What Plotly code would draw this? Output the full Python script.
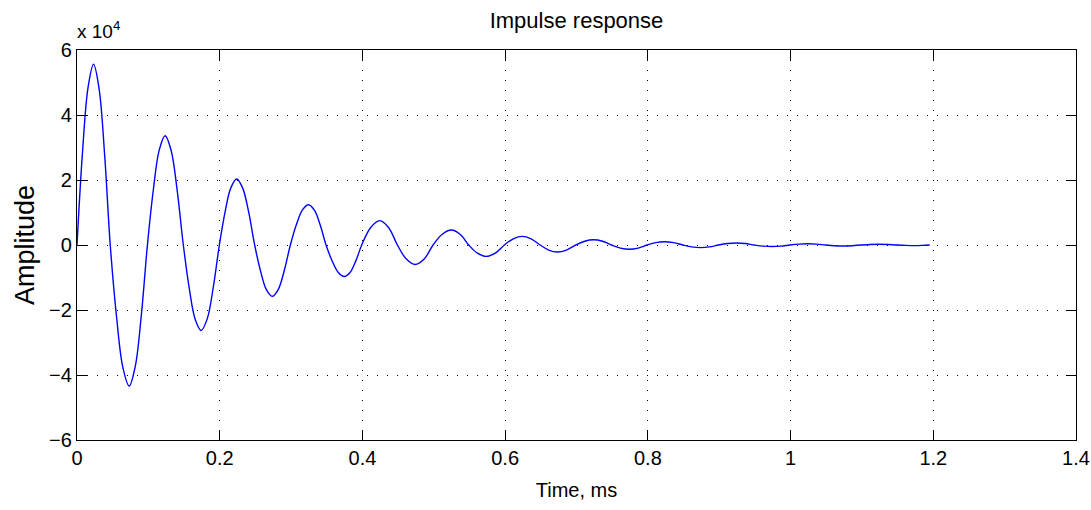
import plotly.graph_objects as go

# Points: time (ms) and amplitude
time_ms = [
    0.0, 0.0077, 0.0155, 0.0232, 0.0310, 0.0388,
    0.0466, 0.0554, 0.0643, 0.0731, 0.0816, 0.0902,
    0.0987, 0.1070, 0.1152, 0.1235, 0.1320, 0.1405,
    0.149, 0.1573, 0.1657, 0.174, 0.1825, 0.1910,
    0.1995, 0.2076, 0.2157, 0.2238, 0.2322, 0.2406,
    0.249, 0.2572, 0.2654, 0.2736, 0.2821, 0.2905,
    0.299, 0.3075, 0.3160, 0.3245, 0.3327, 0.3408,
    0.349, 0.3576, 0.3662, 0.3748, 0.3829, 0.3909,
    0.399, 0.4116, 0.4242, 0.4366,
    0.449, 0.4615, 0.474, 0.4865,
    0.499, 0.5118, 0.5245, 0.5368,
    0.549, 0.5612, 0.5734, 0.5862,
    0.599, 0.6114, 0.6238, 0.6364,
    0.649, 0.661, 0.673, 0.686,
    0.699, 0.7115, 0.724, 0.7365,
    0.749, 0.7615, 0.774, 0.7865,
    0.799, 0.811, 0.823, 0.836,
    0.849, 0.8615, 0.874, 0.8865,
    0.899, 0.9115, 0.924, 0.9365,
    0.949, 0.9615, 0.974, 0.9865,
    0.999, 1.0115, 1.024, 1.0365,
    1.049, 1.0615, 1.074, 1.0865,
    1.099, 1.1115, 1.124, 1.1365,
    1.149, 1.1615, 1.174, 1.1845,
    1.195,
]
amplitude = [
    0, 28500, 48500, 55600, 48000, 27500,
    0, -22000, -37700, -43400, -37400, -21500,
    0, 17000, 29200, 33600, 29000, 16600,
    0, -13300, -22900, -26300, -22700, -13000,
    0, 10300, 17650, 20300, 17500, 10100,
    0, -8000, -13750, -15800, -13650, -7850,
    0, 6300, 10800, 12400, 10700, 6150,
    0, -4900, -8450, -9700, -8380, -4800,
    0, 5400, 7500, 5400,
    0, -4320, -6000, -4320,
    0, 3310, 4600, 3310,
    0, -2520, -3500, -2520,
    0, 1910, 2650, 1910,
    0, -1550, -2150, -1550,
    0, 1150, 1600, 1150,
    0, -940, -1300, -940,
    0, 720, 1000, 720,
    0, -580, -800, -580,
    0, 450, 620, 450,
    0, -350, -480, -350,
    0, 270, 370, 270,
    0, -210, -290, -210,
    0, 165, 230, 165,
    0, -130, -180, -130,
    0,
]

x_ticks = [0, 0.2, 0.4, 0.6, 0.8, 1.0, 1.2, 1.4]
x_tick_labels = ["0", "0.2", "0.4", "0.6", "0.8", "1", "1.2", "1.4"]
y_ticks = [-60000, -40000, -20000, 0, 20000, 40000, 60000]
y_tick_labels = ["\u22126", "\u22124", "\u22122", "0", "2", "4", "6"]

FONT = "Liberation Sans, Arial, sans-serif"

fig = go.Figure()
fig.add_trace(go.Scatter(
    x=time_ms, y=amplitude, mode="lines",
    line=dict(color="#0000ff", width=1.4, shape="spline", smoothing=1.0),
    showlegend=False, hoverinfo="skip"))

axis_common = dict(
    showline=True, linecolor="black", linewidth=1.2, mirror="ticks",
    ticks="inside", ticklen=10, tickcolor="black", tickwidth=1,
    showgrid=True, gridcolor="black", gridwidth=1, griddash="1px,9px",
    zeroline=False, tickfont=dict(family=FONT, size=20, color="black"),
    ticklabeloverflow="allow", automargin=False,
)

fig.update_xaxes(range=[0, 1.4], tickvals=x_ticks, ticktext=x_tick_labels,
                 title=dict(text="Time, ms", font=dict(family=FONT, size=20, color="black"), standoff=14),
                 **axis_common)
fig.update_yaxes(range=[-60000, 60000], tickvals=y_ticks, ticktext=y_tick_labels,
                 title=dict(text="Amplitude", font=dict(family=FONT, size=27, color="black"), standoff=6),
                 **axis_common)

fig.update_layout(
    width=1091, height=510,
    margin=dict(l=77, r=15, t=50, b=70),
    paper_bgcolor="white", plot_bgcolor="white",
    title=dict(text="Impulse response", x=0.5, xref="paper", xanchor="center", y=0.96, yanchor="middle",
               font=dict(family=FONT, size=22, color="black")),
    font=dict(family=FONT, color="black"),
    annotations=[dict(text="x 10<sup>4</sup>", xref="paper", yref="paper", x=0, y=1.0,
                      xanchor="left", yanchor="bottom", yshift=6, xshift=-2, showarrow=False,
                      font=dict(family=FONT, size=19, color="black"))],
)

fig.write_html("out.html")
